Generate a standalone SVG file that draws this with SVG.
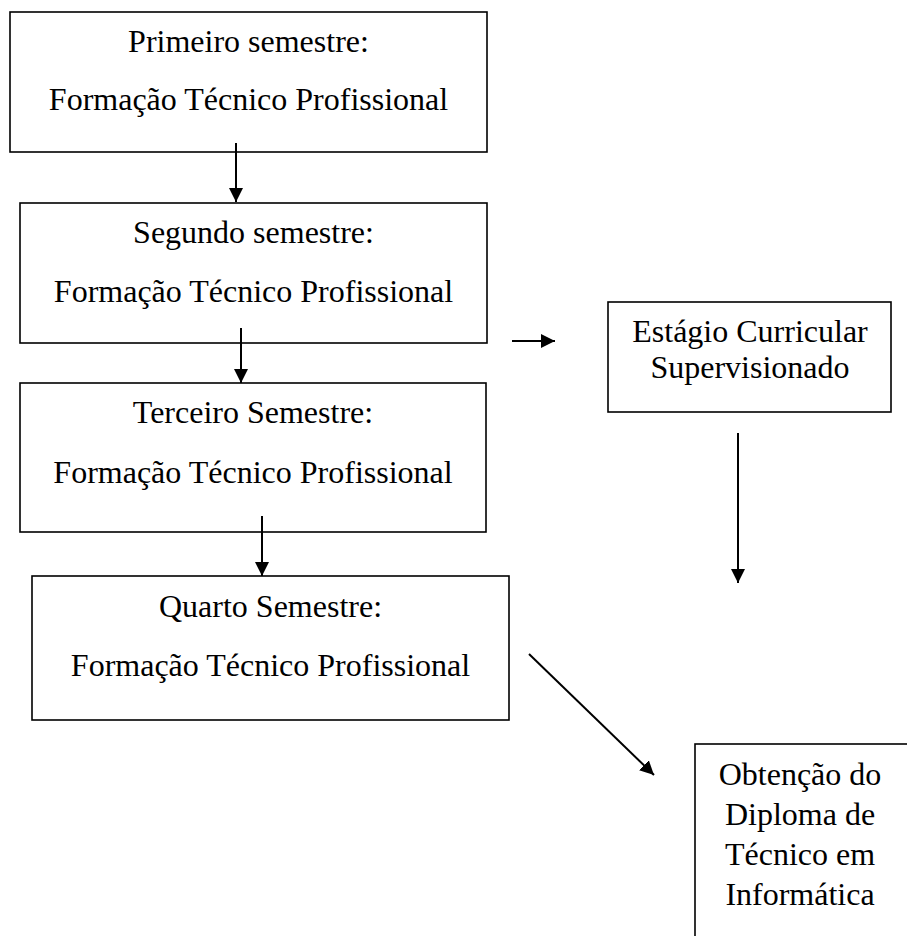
<svg xmlns="http://www.w3.org/2000/svg" width="907" height="936" viewBox="0 0 907 936">
<style>
.box{fill:#fff;stroke:#000;stroke-width:1.6}
.t{font-family:"Liberation Serif","Times New Roman",serif;font-size:32px;fill:#000;text-anchor:middle}
.c{stroke:#000;stroke-width:2;fill:none}
</style>
<defs>
<marker id="ah" markerWidth="14" markerHeight="14" refX="14" refY="7" orient="auto" markerUnits="userSpaceOnUse">
<path d="M0,0 L14,7 L0,14 Z" fill="#000"/>
</marker>
</defs>
<rect width="907" height="936" fill="#fff"/>
<g id="n1"><rect class="box" x="10" y="12" width="477" height="140"/>
<text class="t" x="248.5" y="52">Primeiro semestre:</text>
<text class="t" x="248.5" y="110">Formação Técnico Profissional</text></g>
<g id="n2"><rect class="box" x="20" y="203" width="467" height="140"/>
<text class="t" x="253.5" y="243">Segundo semestre:</text>
<text class="t" x="253.5" y="302">Formação Técnico Profissional</text></g>
<g id="n3"><rect class="box" x="20" y="383" width="466" height="149"/>
<text class="t" x="253" y="423">Terceiro Semestre:</text>
<text class="t" x="253" y="483">Formação Técnico Profissional</text></g>
<g id="n4"><rect class="box" x="32" y="576" width="477" height="144"/>
<text class="t" x="270.5" y="617">Quarto Semestre:</text>
<text class="t" x="270.5" y="676">Formação Técnico Profissional</text></g>
<g id="n5"><rect class="box" x="608" y="302" width="283" height="110"/>
<text class="t" x="750" y="342">Estágio Curricular</text>
<text class="t" x="750" y="378">Supervisionado</text></g>
<g id="n6"><rect class="box" x="695" y="744" width="230" height="230"/>
<text class="t" x="800" y="785">Obtenção do</text>
<text class="t" x="800" y="825">Diploma de</text>
<text class="t" x="800" y="865">Técnico em</text>
<text class="t" x="800" y="905">Informática</text></g>
<g id="connectors">
<line class="c" x1="236" y1="143" x2="236" y2="202" marker-end="url(#ah)"/>
<line class="c" x1="241" y1="328" x2="241" y2="383" marker-end="url(#ah)"/>
<line class="c" x1="262" y1="516" x2="262" y2="576" marker-end="url(#ah)"/>
<line class="c" x1="512" y1="341" x2="555" y2="341" marker-end="url(#ah)"/>
<line class="c" x1="738" y1="433" x2="738" y2="583" marker-end="url(#ah)"/>
<line class="c" x1="529" y1="654" x2="654" y2="775" marker-end="url(#ah)"/>
</g>
</svg>
